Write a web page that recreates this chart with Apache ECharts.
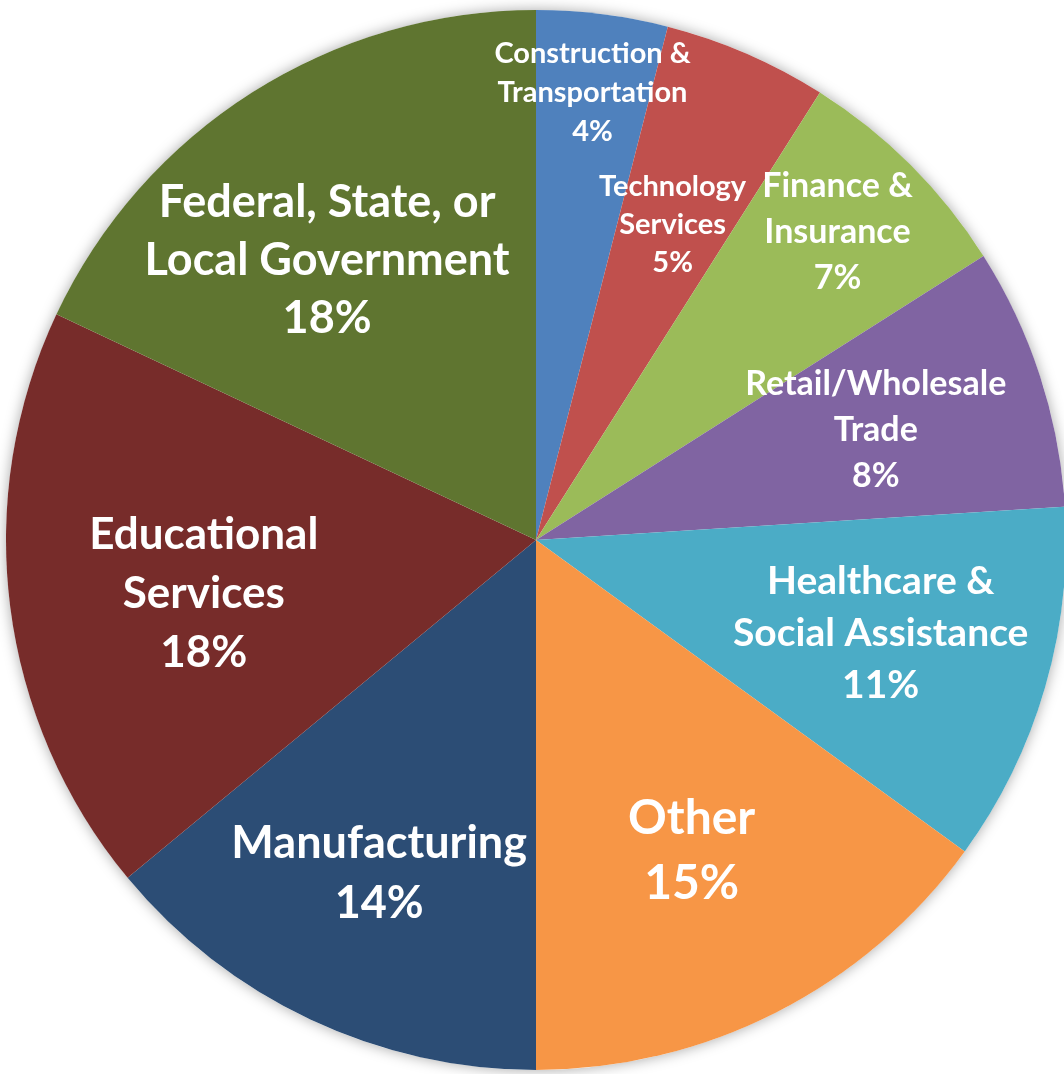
<!DOCTYPE html>
<html>
<head>
<meta charset="utf-8">
<style>
  html, body { margin: 0; padding: 0; background: #ffffff; }
  #chart { width: 1064px; height: 1074px; }
</style>
<script src="https://cdn.jsdelivr.net/npm/echarts@6/dist/echarts.min.js"></script>
</head>
<body>
<div id="chart"></div>
<script>
// Share of employment by sector (percent), clockwise from 12 o'clock
const categories = [
  'Construction &\nTransportation',
  'Technology\nServices',
  'Finance &\nInsurance',
  'Retail/Wholesale\nTrade',
  'Healthcare &\nSocial Assistance',
  'Other',
  'Manufacturing',
  'Educational\nServices',
  'Federal, State, or\nLocal Government'
];
const shares = [4, 5, 7, 8, 11, 15, 14, 18, 18];

// Presentation per slice
const sliceColors = ['#4F81BD', '#C0504D', '#9BBB59', '#8064A2', '#4BACC6',
                     '#F79646', '#2C4D75', '#772C2A', '#5F7530'];
const labelFontSizes = [29, 29, 34, 34, 39, 48, 45, 44, 45];
const labelLineHeights = [39, 38, 46, 46, 52, 65, 60, 59, 58];
// label distance from centre as a fraction of the radius
const labelRadiusFrac = [0.851, 0.649, 0.813, 0.674, 0.674, 0.656, 0.695, 0.635, 0.658];
// small angular nudge (degrees) of the label from the slice bisector
const labelAngleShift = [0, 0, -0.6, 0, -1, 0.4, 0, -2, -4.4];

const CX = 536, CY = 540, R = 530;

const total = shares.reduce((a, b) => a + b, 0);
const midAngles = [];
let acc = 0;
shares.forEach(v => { midAngles.push((acc + v / 2) / total * 360); acc += v; });

const chart = echarts.init(document.getElementById('chart'), null, { renderer: 'canvas' });

chart.setOption({
  backgroundColor: '#ffffff',
  animation: false,
  series: [
    {
      // soft drop shadow behind the disc
      type: 'pie',
      silent: true,
      center: [CX, CY],
      radius: [0, R],
      z: 1,
      label: { show: false },
      labelLine: { show: false },
      itemStyle: {
        color: '#ffffff',
        shadowBlur: 14,
        shadowColor: 'rgba(0,0,0,0.35)'
      },
      data: [{ value: 1, name: '' }]
    },
    {
      type: 'pie',
      center: [CX, CY],
      radius: [0, R],
      startAngle: 90,
      clockwise: true,
      z: 2,
      itemStyle: { borderWidth: 0 },
      labelLine: { show: false },
      label: {
        show: true,
        position: 'inside',
        color: '#ffffff',
        fontFamily: 'Lato, "Open Sans", sans-serif',
        fontWeight: 'bold',
        align: 'center',
        formatter: p => p.name + '\n' + p.value + '%'
      },
      labelLayout: params => {
        const i = params.dataIndex;
        const a = (midAngles[i] + labelAngleShift[i]) * Math.PI / 180;
        const r = R * labelRadiusFrac[i];
        return {
          x: CX + r * Math.sin(a),
          y: CY - r * Math.cos(a),
          align: 'center',
          verticalAlign: 'middle'
        };
      },
      data: categories.map((name, i) => ({
        name: name,
        value: shares[i],
        itemStyle: { color: sliceColors[i] },
        label: { fontSize: labelFontSizes[i], lineHeight: labelLineHeights[i] }
      }))
    }
  ]
});
</script>
</body>
</html>
